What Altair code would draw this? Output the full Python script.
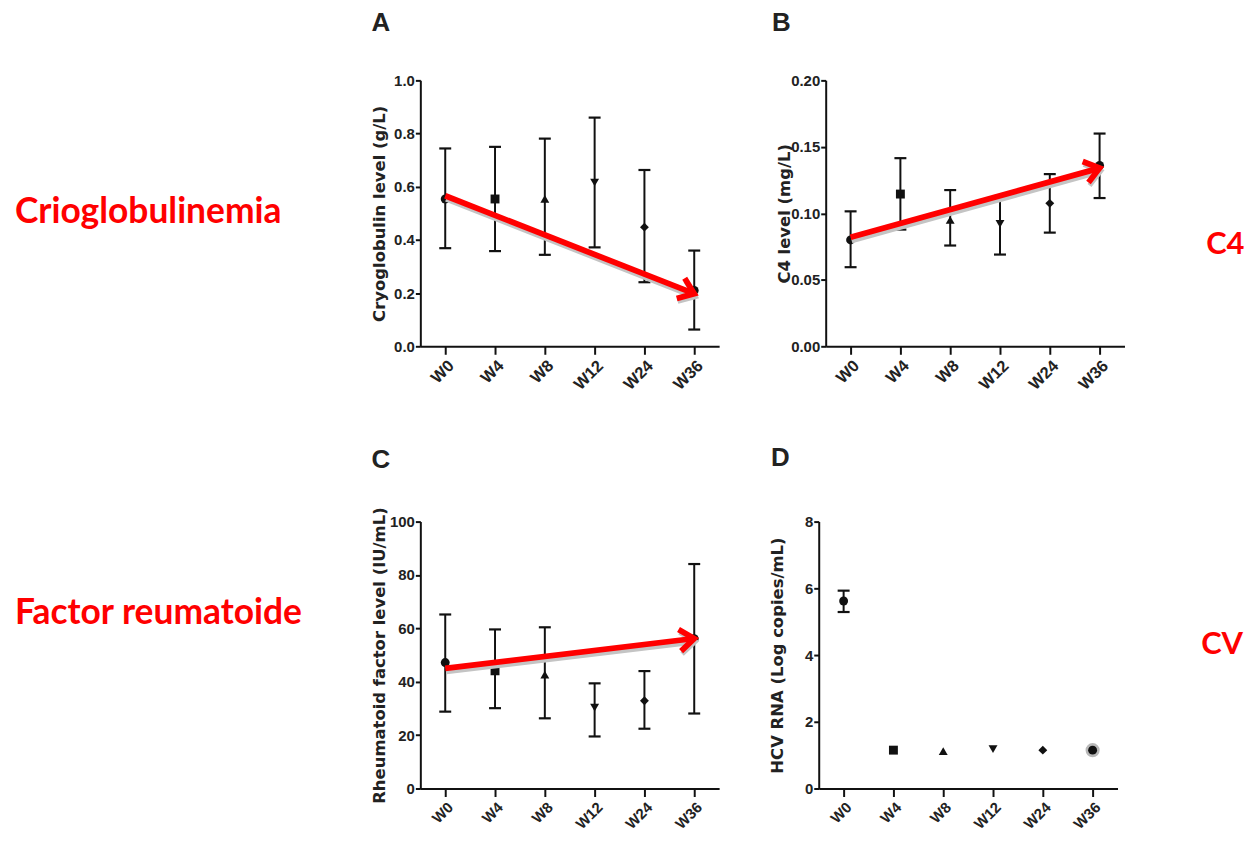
import math
import altair as alt
import pandas as pd

# ---------------- data ----------------
weeks = ["W0", "W4", "W8", "W12", "W24", "W36"]
marker_shapes = ["circle", "square", "triangle-up", "triangle-down", "diamond", "circle"]

cryo_mean = [0.554, 0.554, 0.554, 0.616, 0.448, 0.210]
cryo_hi = [0.744, 0.750, 0.781, 0.860, 0.663, 0.360]
cryo_lo = [0.369, 0.358, 0.344, 0.372, 0.241, 0.063]

c4_mean = [0.080, 0.1145, 0.095, 0.092, 0.1075, 0.136]
c4_hi = [0.1015, 0.1415, 0.1175, 0.113, 0.1295, 0.160]
c4_lo = [0.0595, 0.0878, 0.0758, 0.069, 0.0855, 0.1115]

rf_mean = [47.2, 44.1, 42.7, 30.3, 32.9, 56.1]
rf_hi = [65.2, 59.6, 60.4, 39.4, 44.0, 84.1]
rf_lo = [28.8, 30.1, 26.3, 19.5, 22.4, 28.1]

hcv_mean = [5.62, 1.15, 1.12, 1.18, 1.15, 1.15]
hcv_hi = [5.93, None, None, None, None, None]
hcv_lo = [5.29, None, None, None, None, None]
hcv_halo = ["W36"]

# red trend arrows (start at W0, end at W36)
cryo_arrow = [0.566, 0.198]
c4_arrow = [0.082, 0.134]
rf_arrow = [45.0, 56.2]

panel_letters = ["A", "B", "C", "D"]
y_titles = ["Cryoglobulin level (g/L)", "C4 level (mg/L)",
            "Rheumatoid factor level (IU/mL)", "HCV RNA (Log copies/mL)"]
side_labels = ["Crioglobulinemia", "C4", "Factor reumatoide", "CV"]

cryo_ticks = [0.0, 0.2, 0.4, 0.6, 0.8, 1.0]
c4_ticks = [0.0, 0.05, 0.10, 0.15, 0.20]
rf_ticks = [0, 20, 40, 60, 80, 100]
hcv_ticks = [0, 2, 4, 6, 8]

# ---------------- style ----------------
INK = "#111111"
RED = "#ff0000"
W = 300
H1 = 267
H2 = 268
CHEVRON = "M-1,-0.75L0,0L-1,0.75"
AXIS_FONT = "Liberation Sans"
TITLE_FONT = "DejaVu Sans"
LETTER_FONT = "Liberation Sans Narrow, Liberation Sans"
RED_FONT = "Lato"


def panel(mean, lo, hi, ymax, ticks, fmt, ytitle, letter, letter_xy,
          label, label_xy, label_size, H, xlab_size, arrow=None, halo=None):
    y_scale = alt.Scale(domain=[0, ymax], nice=False, zero=True)
    x_enc = alt.X(
        "week:N", sort=weeks,
        scale=alt.Scale(type="point", padding=0.5),
        axis=alt.Axis(title=None, labelAngle=315, tickSize=8, labelPadding=3,
                      labelFontSize=xlab_size, domainWidth=2, tickWidth=2),
    )
    y_axis = alt.Axis(values=ticks, format=fmt, title=ytitle, grid=False,
                      tickSize=5, labelPadding=1, titleX=-41, titleY=H / 2,
                      titleAngle=270, titleBaseline="middle", titleAlign="center")

    def Y(field):
        return alt.Y(field, scale=y_scale, axis=y_axis)

    pts = pd.DataFrame({"week": weeks, "mean": mean})
    err = pd.DataFrame([{"week": w, "lo": l, "hi": h}
                        for w, l, h in zip(weeks, lo, hi) if l is not None])

    rules = alt.Chart(err).mark_rule(color=INK, strokeWidth=2).encode(
        x=x_enc, y=Y("lo:Q"), y2="hi:Q")
    caps = alt.Chart(err).transform_fold(["lo", "hi"], as_=["end", "val"]).mark_tick(
        color=INK, thickness=2.2, size=12, orient="horizontal", opacity=1).encode(
        x=x_enc, y=Y("val:Q"))
    points = alt.Chart(pts).mark_point(filled=True, color=INK, size=80, opacity=1).encode(
        x=x_enc, y=Y("mean:Q"),
        shape=alt.Shape("week:N", scale=alt.Scale(domain=weeks, range=marker_shapes),
                        legend=None))
    layers = [rules, caps]
    if halo:
        hdf = pts[pts["week"].isin(halo)]
        layers.append(alt.Chart(hdf).mark_point(
            filled=True, color="#b8b8b8", size=200, opacity=1, shape="circle").encode(
            x=x_enc, y=Y("mean:Q")))
    layers.append(points)

    if arrow is not None:
        adf = pd.DataFrame({"week": [weeks[0], weeks[-1]], "v": arrow})
        step = W / len(weeks)
        dx = step * (len(weeks) - 1)
        dy = -(arrow[1] - arrow[0]) / ymax * H
        ang = math.degrees(math.atan2(dy, dx)) % 360
        shadow = alt.Chart(adf).mark_line(color="#c4c4c4", strokeWidth=6, xOffset=1,
                                          yOffset=3).encode(x=x_enc, y=Y("v:Q"))
        line = alt.Chart(adf).mark_line(color=RED, strokeWidth=5.8).encode(
            x=x_enc, y=Y("v:Q"))
        head_sh = alt.Chart(adf.iloc[[1]]).mark_point(
            shape=CHEVRON, filled=False, strokeWidth=5, color="#c4c4c4", size=850,
            angle=ang, opacity=1, xOffset=1, yOffset=3).encode(x=x_enc, y=Y("v:Q"))
        head = alt.Chart(adf.iloc[[1]]).mark_point(
            shape=CHEVRON, filled=False, strokeWidth=5.8, color=RED, size=850,
            angle=ang, opacity=1, strokeJoin="miter").encode(x=x_enc, y=Y("v:Q"))
        layers += [shadow, head_sh, line, head]

    let = alt.Chart(pd.DataFrame({"t": [letter]})).mark_text(
        font=LETTER_FONT, fontWeight="bold", fontSize=26, color="#222222",
        align="left", baseline="alphabetic").encode(
        text="t:N", x=alt.value(letter_xy[0]), y=alt.value(letter_xy[1]))
    lab = alt.Chart(pd.DataFrame({"t": [label]})).mark_text(
        font=RED_FONT, fontWeight="bold", fontSize=label_size, color=RED,
        align="left", baseline="alphabetic").encode(
        text="t:N", x=alt.value(label_xy[0]), y=alt.value(label_xy[1]))
    layers += [let, lab]

    return alt.layer(*layers).properties(width=W, height=H)


pA = panel(cryo_mean, cryo_lo, cryo_hi, 1.0, cryo_ticks, ".1f", y_titles[0],
           panel_letters[0], (-49, -50), side_labels[0], (-407, 143), 35.5, H1, 16.5,
           cryo_arrow)
pB = panel(c4_mean, c4_lo, c4_hi, 0.2, c4_ticks, ".2f", y_titles[1],
           panel_letters[1], (-54, -50), side_labels[1], (382, 174), 31, H1, 16.5,
           c4_arrow)
pC = panel(rf_mean, rf_lo, rf_hi, 100, rf_ticks, "d", y_titles[2],
           panel_letters[2], (-49, -54), side_labels[2], (-407, 103), 35.5, H2, 15,
           rf_arrow)
pD = panel(hcv_mean, hcv_lo, hcv_hi, 8, hcv_ticks, "d", y_titles[3],
           panel_letters[3], (-48, -56), side_labels[3], (384, 133), 31, H2, 15,
           None, hcv_halo)

row1 = alt.hconcat(pA, pB, spacing=107, bounds="flush")
row2 = alt.hconcat(pC, pD, spacing=100, bounds="flush")

# nested flush rows count with zero height, so the gap includes the first row's height
chart = alt.vconcat(row1, row2, spacing=176 + H1, bounds="flush").properties(
    padding={"left": 7, "top": 0, "right": 0, "bottom": 0}
).configure_view(stroke=None).configure_axis(
    domainColor=INK, domainWidth=2, tickColor=INK, tickWidth=2,
    labelFont=AXIS_FONT, labelFontWeight="bold", labelFontSize=15, labelColor="#222222",
    titleFont=TITLE_FONT, titleFontWeight="bold", titleFontSize=16.5, titleColor="#222222",
)

chart.save("out.html", embed_options={"renderer": "svg", "actions": False})
